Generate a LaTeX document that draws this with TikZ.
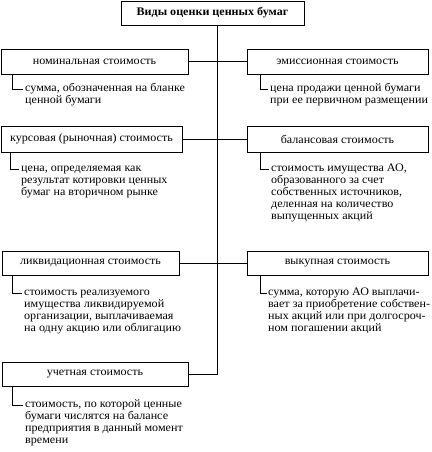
\documentclass[tikz,border=0pt]{standalone}
\usepackage{fontspec}
\setmainfont{Liberation Serif}[FakeStretch=1.05]
\newcommand{\lblfont}{\fontsize{11.5}{12}\selectfont}
\newcommand{\dscfont}{\fontsize{11.5}{12}\selectfont}
\begin{document}
\begin{tikzpicture}[x=1pt,y=-1pt,
  box/.style={draw, line width=0.9pt, rectangle, inner sep=0pt, font=\lblfont},
  lbox/.style={box, minimum height=25pt},
  desc/.style={anchor=north west, align=left, inner sep=0pt, font=\dscfont},
  conn/.style={line width=0.9pt},
  brk/.style={line width=0.8pt}]
\useasboundingbox[fill=white] (0,0) rectangle (431,452);
% title
\node[box, minimum width=183pt, minimum height=24pt, font=\lblfont\bfseries] (title) at (212.5,13) {Виды оценки ценных бумаг};
% row 1
\node[lbox, minimum width=187pt] (nom) at (94.5,61.5) {номинальная стоимость};
\node[lbox, minimum width=181pt] (em) at (337.5,61.5) {эмиссионная стоимость};
% row 2
\node[box, minimum width=181pt, minimum height=26pt] (kurs) at (91.5,139) {курсовая (рыночная) стоимость};
\node[box, minimum width=181pt, minimum height=26pt] (bal) at (337.5,139) {балансовая стоимость};
% row 3
\node[box, minimum width=177pt, minimum height=24pt] (likv) at (90.5,263) {ликвидационная стоимость};
\node[box, minimum width=181pt, minimum height=24pt] (vyk) at (337.5,263) {выкупная стоимость};
% row 4
\node[box, minimum width=186pt, minimum height=24pt] (uch) at (95,374) {учетная стоимость};
% descriptions
\node[desc] (d1) at (25,82.5) {\strut сумма, обозначенная на бланке\\ценной бумаги};
\node[desc] (d2) at (270,82.5) {\strut цена продажи ценной бумаги\\при ее первичном размещении};
\node[desc] (d3) at (21,162.5) {\strut цена, определяемая как\\результат котировки ценных\\бумаг на вторичном рынке};
\node[desc] (d4) at (271,162.5) {\strut стоимость имущества АО,\\образованного за счет\\собственных источников,\\деленная на количество\\выпущенных акций};
\node[desc] (d5) at (24,286.5) {\strut стоимость реализуемого\\имущества ликвидируемой\\организации, выплачиваемая\\на одну акцию или облигацию};
\node[desc] (d6) at (268,286.5) {\strut сумма, которую АО выплачи-\\вает за приобретение собствен-\\ных акций или при долгосроч-\\ном погашении акций};
\node[desc] (d7) at (25,398.5) {\strut стоимость, по которой ценные\\бумаги числятся на балансе\\предприятия в данный момент\\времени};
% bracket corners
\coordinate (k1) at (12,89);
\coordinate (k2) at (260,89);
\coordinate (k3) at (10,169);
\coordinate (k4) at (260,169);
\coordinate (k5) at (12,293);
\coordinate (k6) at (260,293);
\coordinate (k7) at (12,405);
\draw[brk] (nom.south -| k1) |- ([xshift=-2.5pt]d1.north west |- k1);
\draw[brk] (em.south -| k2) |- ([xshift=-2.5pt]d2.north west |- k2);
\draw[brk] (kurs.south -| k3) |- ([xshift=-2.5pt]d3.north west |- k3);
\draw[brk] (bal.south -| k4) |- ([xshift=-2.5pt]d4.north west |- k4);
\draw[brk] (likv.south -| k5) |- ([xshift=-2.5pt]d5.north west |- k5);
\draw[brk] (vyk.south -| k6) |- ([xshift=-1pt]d6.north west |- k6);
\draw[brk] (uch.south -| k7) |- ([xshift=-2.5pt]d7.north west |- k7);
% trunk and connectors
\coordinate (tb) at (217,374);
\draw[conn] (title.south -| tb) -- (tb) -- (uch.east);
\draw[conn] (nom.east) -- (em.west);
\draw[conn] (kurs.east) -- (bal.west);
\draw[conn] (likv.east) -- (vyk.west);
\end{tikzpicture}
\end{document}
